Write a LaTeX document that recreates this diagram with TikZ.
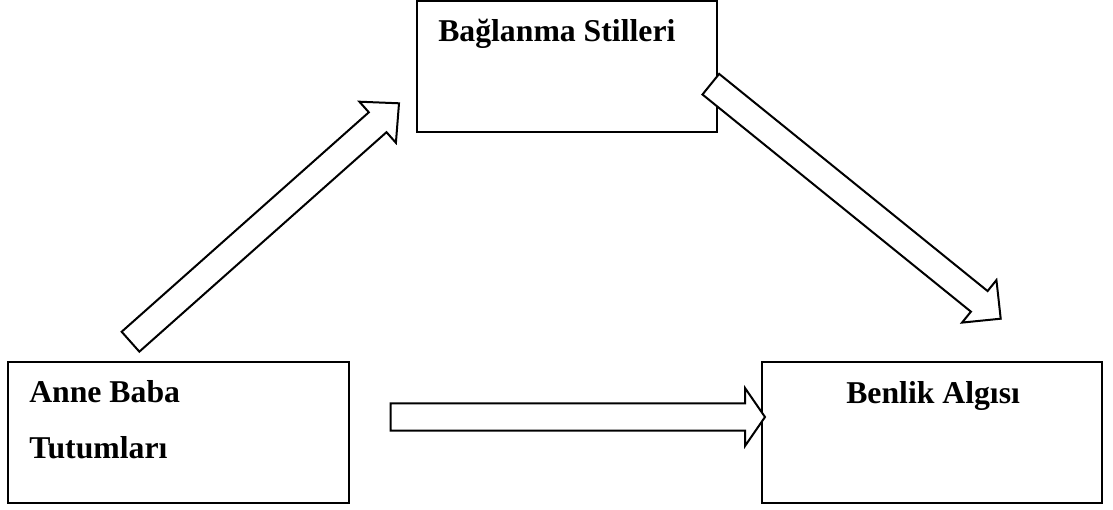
\documentclass[tikz,border=0pt]{standalone}
\usepackage{fontspec}
\setmainfont{Liberation Serif}
\usetikzlibrary{calc}
\tikzset{
  boxnode/.style={draw=black, line width=1pt, rectangle, inner sep=0pt, outer sep=0pt, anchor=north west},
  labeltext/.style={inner sep=0pt, anchor=base west, font=\fontsize{23.8}{28}\selectfont\bfseries},
  blockarrowstyle/.style={draw=black, fill=white, line width=1.5pt, line join=miter}
}
\newcommand{\blockarrow}[5]{%
  \draw[blockarrowstyle]
    ($(#1)!#3!90:(#2)$) --
    ($($(#2)!#5!(#1)$)!#3!-90:(#1)$) --
    ($($(#2)!#5!(#1)$)!#4!-90:(#1)$) --
    (#2) --
    ($($(#2)!#5!(#1)$)!#4!90:(#1)$) --
    ($($(#2)!#5!(#1)$)!#3!90:(#1)$) --
    ($(#1)!#3!-90:(#2)$) -- cycle;
}
\begin{document}
\begin{tikzpicture}[x=0.75pt,y=-0.75pt]
  \useasboundingbox (0,0) rectangle (1113,510);
  % boxes
  \node[boxnode, minimum width=225pt, minimum height=98.25pt] (bag) at (417,1) {};
  \node[boxnode, minimum width=255.75pt, minimum height=105.75pt] (anne) at (8,362) {};
  \node[boxnode, minimum width=255pt, minimum height=105.75pt] (benlik) at (762,362) {};
  % texts
  \node[labeltext] (bagt) at (438,42) {Bağlanma Stilleri};
  \node[labeltext] (annet1) at (29,402) {Anne Baba};
  \node[labeltext] (annet2) at (29,458) {Tutumları};
  \node[labeltext] (benlikt) at (846,403) {Benlik Algısı};
  % arrow end points
  \coordinate (a1s) at (130.5,341.7);
  \coordinate (a1e) at (399,103.3);
  \coordinate (a2s) at (710.8,84.2);
  \coordinate (a2e) at (1000.7,318.7);
  \coordinate (a3s) at (390.7,417);
  \coordinate (a3e) at (765,417);
  % arrows
  \blockarrow{a1s}{a1e}{9.98pt}{20.6pt}{21.4pt}
  \blockarrow{a2s}{a2e}{9.94pt}{20.5pt}{20.7pt}
  \blockarrow{a3s}{a3e}{10.3pt}{21.75pt}{15pt}
\end{tikzpicture}
\end{document}
